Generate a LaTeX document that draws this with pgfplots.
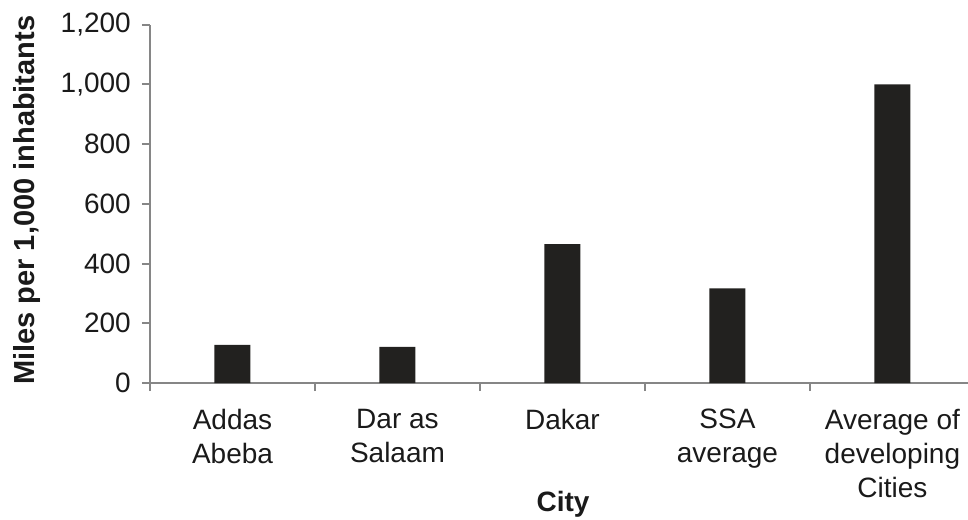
\documentclass[border=0pt]{standalone}
\usepackage{pgfplots}
\pgfplotsset{compat=1.18}
\usepackage{fontspec}
\setmainfont{Liberation Sans}

\definecolor{barfill}{RGB}{34,33,31}
\definecolor{axisgray}{RGB}{134,134,134}
\definecolor{txt}{RGB}{26,26,26}

\begin{document}
\begin{tikzpicture}
\begin{axis}[
  at={(0,0)}, anchor=south west,
  scale only axis,
  width=818bp, height=358.3bp,
  font=\fontsize{28bp}{34bp}\selectfont,
  xmin=-0.5, xmax=4.458,
  ymin=0, ymax=1200,
  axis x line*=bottom,
  axis y line*=left,
  axis line style={draw=axisgray, line width=2bp},
  tick style={draw=axisgray, line width=2bp},
  tick align=outside,
  major tick length=8bp,
  ytick={0,200,...,1200},
  yticklabel style={text=txt, inner sep=0pt, xshift=-11bp,
    /pgf/number format/.cd, 1000 sep={,}, assume math mode=true},
  xtick={-0.5,0.5,1.5,2.5,3.5},
  xticklabels={},
  extra x ticks={0,1,2,3,4},
  extra x tick labels={Addas\\Abeba, Dar as\\Salaam, Dakar, SSA\\average, Average of\\developing\\Cities},
  extra x tick style={major tick length=0pt,
    xticklabel style={align=center, anchor=north, inner sep=0pt, yshift=-26bp, text=txt}},
  xlabel={\bfseries City},
  xlabel style={at={(axis description cs:0.505,-0.36)}, anchor=base, text=txt},
  ylabel={\fontsize{29bp}{34bp}\selectfont\bfseries Miles per 1,000 inhabitants},
  ylabel style={at={(axis description cs:-0.1406,0.51)}, anchor=base, text=txt},
  clip=false,
]
\addplot[ybar, bar width=36bp, fill=barfill, draw=none]
  coordinates {(0,128) (1,121) (2,465) (3,317) (4,1000)};
\end{axis}
\pgfresetboundingbox
\path[use as bounding box] (-150bp,-137bp) rectangle (818bp,383bp);
\end{tikzpicture}
\end{document}
